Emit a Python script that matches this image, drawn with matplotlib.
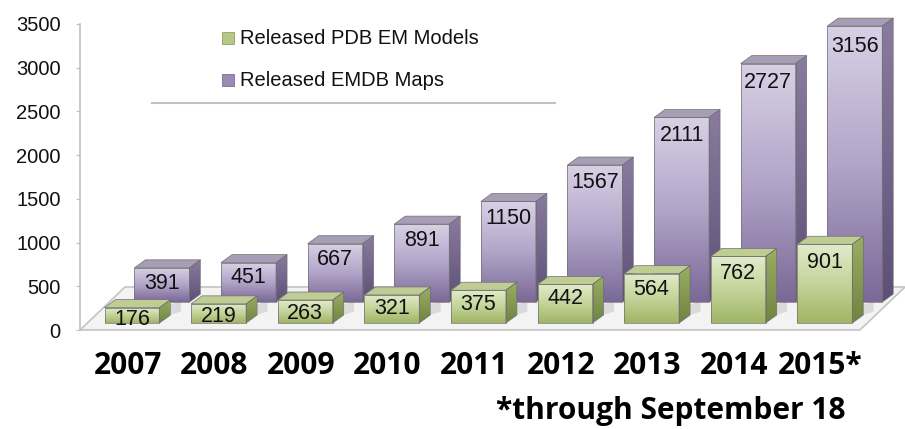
import numpy as np
import matplotlib
matplotlib.use('Agg')
import matplotlib.pyplot as plt
from matplotlib.patches import Polygon, Rectangle
from matplotlib.colors import LinearSegmentedColormap
from matplotlib.lines import Line2D

# ---------------- data ----------------
years = ['2007', '2008', '2009', '2010', '2011', '2012', '2013', '2014', '2015*']
pdb_models = [176, 219, 263, 321, 375, 442, 564, 762, 901]
emdb_maps = [391, 451, 667, 891, 1150, 1567, 2111, 2727, 3156]
legend_labels = ['Released PDB EM Models', 'Released EMDB Maps']
y_ticks = [0, 500, 1000, 1500, 2000, 2500, 3000, 3500]
footnote = '*through September 18'

# ---------------- style ----------------
W, H = 905, 429
plt.rcParams['font.family'] = ['Liberation Sans', 'DejaVu Sans']
fig = plt.figure(figsize=(W / 100, H / 100), dpi=100)
ax = fig.add_axes([80 / W, 99 / H, 825 / W, 330 / H])
XL = (-0.6005, 8.926)
YL = (0, 3774.5)

bar_w = 0.635
back_shift = 0.346
dx, dy = 0.127, 91.5
green_base, purple_base = 80, 320

green_front = LinearSegmentedColormap.from_list('gf', ['#e2ebcb', '#c4d49a', '#9fb565'])
green_side = LinearSegmentedColormap.from_list('gs', ['#9aae63', '#6f8440'])
green_top = '#bfcd95'
purple_front = LinearSegmentedColormap.from_list('pf', ['#d8d1e5', '#b2a5c9', '#7a6896'])
purple_side = LinearSegmentedColormap.from_list('ps', ['#8a7ca0', '#5e4f78'])
purple_top = '#a69db6'
edge = '#6f6f6f'


def box(x, bottom, height, front_cmap, side_cmap, top_color, z):
    x0, x1 = x - bar_w / 2, x + bar_w / 2
    top = bottom + height
    rect = ax.bar(x, height, bar_w, bottom=bottom, color='none',
                  edgecolor=edge, linewidth=0.5, zorder=z + 0.3)[0]
    grad = np.linspace(0, 1, 256).reshape(-1, 1)
    im = ax.imshow(grad, cmap=front_cmap, extent=(x0, x1, bottom, top),
                   aspect='auto', origin='upper', zorder=z, interpolation='bilinear')
    im.set_clip_path(rect)
    side = Polygon([(x1, bottom), (x1, top), (x1 + dx, top + dy), (x1 + dx, bottom + dy)],
                   closed=True, facecolor='none', edgecolor=edge, linewidth=0.5, zorder=z + 0.3)
    ax.add_patch(side)
    im2 = ax.imshow(grad, cmap=side_cmap, extent=(x1, x1 + dx, bottom, top + dy),
                    aspect='auto', origin='upper', zorder=z, interpolation='bilinear')
    im2.set_clip_path(side)
    topf = Polygon([(x0, top), (x1, top), (x1 + dx, top + dy), (x0 + dx, top + dy)],
                   closed=True, facecolor=top_color, edgecolor=edge, linewidth=0.5, zorder=z + 0.2)
    ax.add_patch(topf)


# floor
floor = Polygon([(XL[0], 0), (8.406, 0), (XL[1], 492), (-0.081, 492)], closed=True,
                facecolor='#f3f3f3', edgecolor='#c4c4c4', linewidth=1.2, zorder=1,
                clip_on=False)
ax.add_patch(floor)

# shadows on floor
for i, v in enumerate(pdb_models):
    x1 = i + bar_w / 2
    ax.add_patch(Polygon([(x1 + dx, green_base + dy), (x1 + dx + 0.12, green_base + dy + 40),
                          (x1 + dx + 0.12, green_base + dy + 160), (x1 + dx, green_base + dy + 120)],
                         closed=True, facecolor='#dadada', edgecolor='none', zorder=1.5))

# back row (EMDB maps)
for i, v in enumerate(emdb_maps):
    box(i + back_shift, purple_base, v, purple_front, purple_side, purple_top, 2)
    ax.text(i + back_shift, purple_base + 0.98 * v - 166, str(v), ha='center', va='center',
            fontsize=15.5, color='#111111', zorder=3.5)

# front row (PDB models)
for i, v in enumerate(pdb_models):
    box(i, green_base, v, green_front, green_side, green_top, 4)
    ax.text(i, green_base + 0.9 * v - 123, str(v), ha='center', va='center',
            fontsize=15.5, color='#111111', zorder=5.5)

ax.set_xlim(*XL)
ax.set_ylim(*YL)

# axes styling
for s in ['top', 'right', 'bottom']:
    ax.spines[s].set_visible(False)
ax.spines['left'].set_bounds(0, 3500)
ax.spines['left'].set_color('#c0c0c0')
ax.spines['left'].set_linewidth(1.2)
ax.set_yticks(y_ticks)
ax.set_yticklabels([str(t) for t in y_ticks])
ax.tick_params(axis='y', length=3, color='#c0c0c0', labelsize=14.5, pad=11, labelcolor='#111111')
ax.set_xticks([])
ax.patch.set_alpha(0)

# year labels
for i, y in enumerate(years):
    ax.text(i - 0.05, -412, y, ha='center', va='center', fontsize=21.5, fontweight='bold',
            family='Open Sans', clip_on=False, color='black')

fig.text(671 / W, 1 - 411 / H, footnote, ha='center', va='center', fontsize=21.5,
         fontweight='bold', family='Open Sans', color='black')

# legend
leg_colors = ['#b5c886', '#9a8cb4']
leg_edges = ['#7f9448', '#6b5d85']
for k, (lab, c, ec) in enumerate(zip(legend_labels, leg_colors, leg_edges)):
    yc = 38 + 42 * k
    fig.patches.append(Rectangle((222 / W, 1 - (yc + 6) / H), 12 / W, 12 / H,
                                 transform=fig.transFigure, facecolor=c, edgecolor=ec,
                                 linewidth=0.5))
    fig.text(240 / W, 1 - yc / H, lab, ha='left', va='center', fontsize=14.5, color='#111111')
fig.lines.append(Line2D([152 / W, 555 / W], [1 - 103 / H, 1 - 103 / H],
                        transform=fig.transFigure, color='#c0c0c0', linewidth=1.5))

fig.savefig('out.png', dpi=100)
